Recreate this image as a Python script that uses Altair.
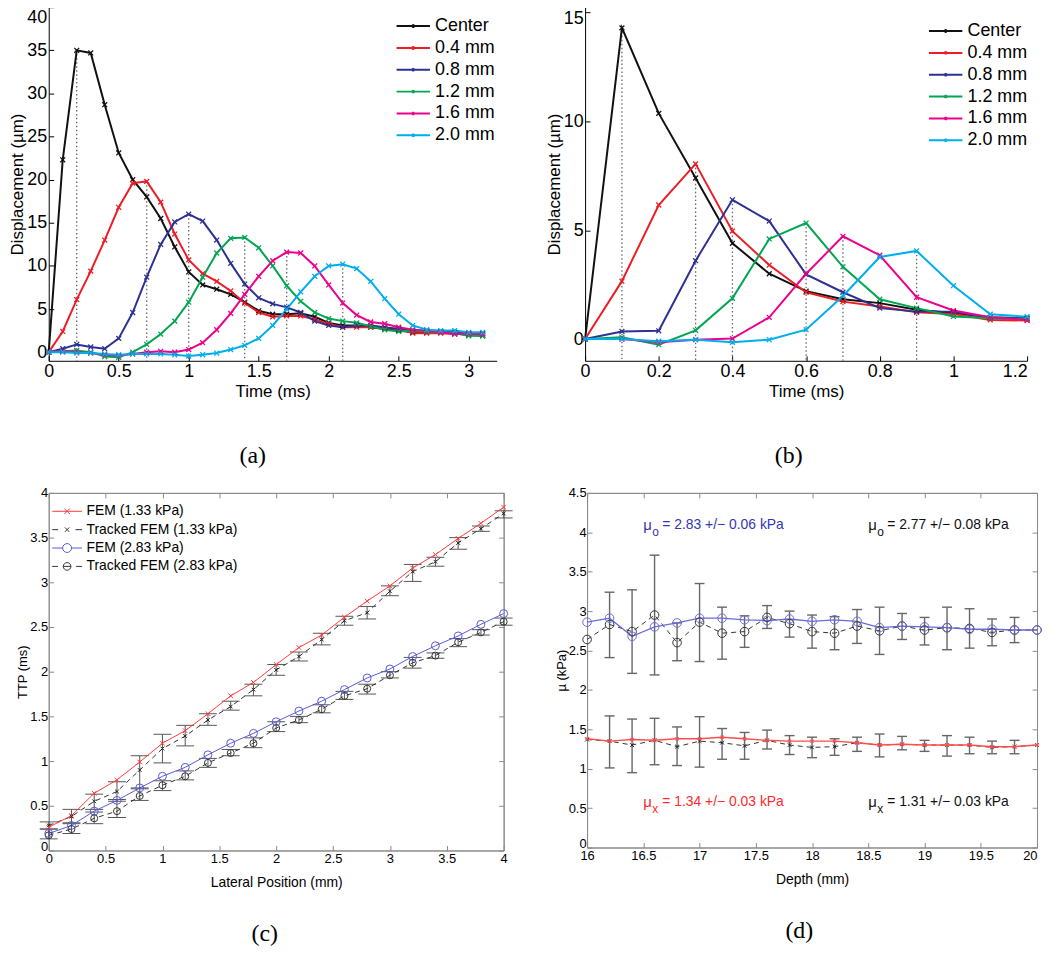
import altair as alt
import pandas as pd

# ---------------- data : panel (a) ----------------
TIME_A = [0.0, 0.1, 0.2, 0.3, 0.4, 0.5, 0.6, 0.7, 0.8, 0.9, 1.0, 1.1, 1.2, 1.3, 1.4, 1.5,
          1.6, 1.7, 1.8, 1.9, 2.0, 2.1, 2.2, 2.3, 2.4, 2.5, 2.6, 2.7, 2.8, 2.9, 3.0, 3.1]
A_CENTER = [0, 22.3, 35.0, 34.7, 28.7, 23.1, 20.0, 18.0, 15.5, 12.2, 9.3, 7.8, 7.3, 6.7, 5.8, 4.8,
            4.4, 4.4, 4.5, 4.1, 3.4, 3.1, 3.1, 2.9, 2.7, 2.5, 2.3, 2.3, 2.3, 2.2, 2.0, 1.9]
A_04 = [0, 2.4, 6.1, 9.4, 13.0, 16.8, 19.6, 19.8, 17.4, 13.7, 10.7, 9.1, 8.2, 7.1, 5.7, 4.6,
        4.1, 4.2, 4.2, 3.8, 3.3, 2.9, 2.9, 2.9, 2.8, 2.7, 2.2, 2.2, 2.2, 2.1, 2.1, 2.1]
A_08 = [0, 0.4, 0.9, 0.6, 0.4, 1.6, 4.6, 8.7, 12.5, 15.1, 16.0, 15.2, 13.0, 10.3, 7.9, 6.3,
        5.6, 5.2, 4.6, 3.6, 3.1, 2.9, 3.1, 3.1, 2.9, 2.7, 2.5, 2.5, 2.4, 2.3, 2.2, 2.2]
A_12 = [0, 0.1, 0.2, 0.0, -0.5, -0.6, 0.0, 0.9, 2.1, 3.6, 5.8, 8.7, 11.5, 13.2, 13.3, 12.1,
        10.0, 7.7, 5.9, 4.6, 3.9, 3.6, 3.4, 3.0, 2.6, 2.4, 2.5, 2.4, 2.3, 2.2, 1.9, 1.9]
A_16 = [0, 0.1, 0.0, -0.1, -0.3, -0.4, -0.2, 0.0, 0.1, 0.0, 0.3, 1.1, 2.6, 4.5, 6.7, 8.8,
        10.6, 11.6, 11.5, 10.0, 7.8, 5.7, 4.3, 3.5, 3.3, 2.9, 2.6, 2.5, 2.3, 2.1, 2.2, 2.1]
A_20 = [0, 0.0, -0.1, -0.1, -0.2, -0.3, -0.2, -0.2, -0.2, -0.3, -0.45, -0.3, -0.1, 0.3, 0.8, 1.6,
        3.1, 5.0, 7.0, 8.8, 10.0, 10.2, 9.7, 8.2, 6.2, 4.4, 3.1, 2.6, 2.5, 2.5, 2.3, 2.3]

# ---------------- data : panel (b) ----------------
TIME_B = [0.0, 0.1, 0.2, 0.3, 0.4, 0.5, 0.6, 0.7, 0.8, 0.9, 1.0, 1.1, 1.2]
B_CENTER = [0, 14.3, 10.37, 7.4, 4.4, 3.0, 2.2, 1.83, 1.65, 1.35, 1.2, 1.0, 0.95]
B_04 = [0, 2.66, 6.16, 8.05, 4.96, 3.4, 2.15, 1.72, 1.5, 1.23, 1.15, 0.88, 0.85]
B_08 = [0, 0.35, 0.38, 3.6, 6.4, 5.42, 2.97, 2.15, 1.42, 1.26, 1.26, 0.96, 0.96]
B_12 = [0, 0.08, -0.26, 0.4, 1.87, 4.6, 5.33, 3.32, 1.83, 1.42, 1.04, 0.96, 0.93]
B_16 = [0, 0.0, -0.15, -0.03, 0.02, 1.0, 3.0, 4.72, 3.85, 1.92, 1.31, 1.0, 0.88]
B_20 = [0, 0.0, -0.1, -0.03, -0.15, -0.03, 0.43, 1.98, 3.77, 4.05, 2.45, 1.14, 1.03]

SERIES_AB = ["Center", "0.4 mm", "0.8 mm", "1.2 mm", "1.6 mm", "2.0 mm"]
COLORS_AB = ["#111111", "#ee1c24", "#2e3192", "#00a651", "#ec008c", "#00aeef"]

# ---------------- data : panel (c) ----------------
C_X = [0.0, 0.2, 0.4, 0.6, 0.8, 1.0, 1.2, 1.4, 1.6, 1.8, 2.0, 2.2, 2.4, 2.6, 2.8, 3.0,
       3.2, 3.4, 3.6, 3.8, 4.0]
C_FEM133 = [0.26, 0.39, 0.64, 0.79, 0.99, 1.20, 1.34, 1.53, 1.73, 1.88, 2.08, 2.27, 2.41, 2.61,
            2.79, 2.96, 3.16, 3.31, 3.49, 3.66, 3.84]
C_TRK133 = [0.28, 0.38, 0.55, 0.66, 0.90, 1.14, 1.28, 1.46, 1.61, 1.80, 2.02, 2.17, 2.36, 2.57,
            2.66, 2.90, 3.12, 3.23, 3.44, 3.60, 3.77]
C_TRK133_LO = [0.24, 0.31, 0.46, 0.55, 0.69, 0.98, 1.17, 1.40, 1.57, 1.73, 1.96, 2.12, 2.30, 2.52,
               2.59, 2.85, 3.01, 3.18, 3.37, 3.57, 3.72]
C_TRK133_HI = [0.32, 0.46, 0.63, 0.77, 1.06, 1.30, 1.40, 1.53, 1.67, 1.86, 2.08, 2.22, 2.43, 2.62,
               2.73, 2.96, 3.20, 3.28, 3.50, 3.63, 3.80]
C_FEM283 = [0.19, 0.28, 0.44, 0.56, 0.70, 0.83, 0.93, 1.07, 1.20, 1.31, 1.44, 1.56, 1.67, 1.80,
            1.93, 2.03, 2.17, 2.29, 2.40, 2.53, 2.65]
C_TRK283 = [0.17, 0.24, 0.36, 0.44, 0.61, 0.73, 0.83, 0.98, 1.09, 1.20, 1.37, 1.46, 1.58, 1.73,
            1.81, 1.96, 2.10, 2.18, 2.33, 2.44, 2.56]
C_TRK283_LO = [0.13, 0.19, 0.30, 0.37, 0.56, 0.67, 0.79, 0.93, 1.06, 1.15, 1.33, 1.43, 1.54, 1.69,
               1.75, 1.93, 2.04, 2.15, 2.28, 2.41, 2.52]
C_TRK283_HI = [0.24, 0.30, 0.43, 0.57, 0.70, 0.78, 0.89, 1.03, 1.13, 1.26, 1.44, 1.50, 1.63, 1.78,
               1.86, 2.00, 2.16, 2.21, 2.37, 2.47, 2.60]
SERIES_C = ["FEM (1.33 kPa)", "Tracked FEM (1.33 kPa)", "FEM (2.83 kPa)", "Tracked FEM (2.83 kPa)"]
COLORS_C = ["#ff3b3b", "#333333", "#5a5ad6", "#333333"]

# ---------------- data : panel (d) ----------------
D_X = [16.0, 16.2, 16.4, 16.6, 16.8, 17.0, 17.2, 17.4, 17.6, 17.8, 18.0, 18.2, 18.4, 18.6,
       18.8, 19.0, 19.2, 19.4, 19.6, 19.8, 20.0]
D_FEM283 = [2.86, 2.91, 2.68, 2.80, 2.85, 2.91, 2.91, 2.89, 2.88, 2.90, 2.87, 2.89, 2.87, 2.79,
            2.81, 2.80, 2.79, 2.77, 2.77, 2.76, 2.76]
D_TRK283 = [2.64, 2.83, 2.74, 2.95, 2.60, 2.86, 2.72, 2.74, 2.92, 2.84, 2.74, 2.72, 2.81, 2.75,
            2.81, 2.76, 2.79, 2.78, 2.73, 2.76, 2.76]
D_TRK283_LO = [None, 2.41, 2.21, 2.19, 2.37, 2.36, 2.39, 2.54, 2.78, 2.67, 2.53, 2.51, 2.59, 2.45,
               2.64, 2.57, 2.51, 2.53, 2.56, 2.60, None]
D_TRK283_HI = [None, 3.24, 3.27, 3.71, 2.85, 3.35, 3.05, 2.94, 3.07, 3.00, 2.95, 2.93, 3.02, 3.05,
               2.97, 2.92, 3.05, 3.03, 2.90, 2.92, None]
D_FEM134 = [1.38, 1.35, 1.37, 1.36, 1.38, 1.38, 1.40, 1.38, 1.36, 1.35, 1.35, 1.35, 1.33, 1.30,
            1.31, 1.30, 1.30, 1.30, 1.28, 1.28, 1.30]
D_TRK131 = [1.37, 1.35, 1.30, 1.36, 1.28, 1.35, 1.33, 1.29, 1.36, 1.30, 1.27, 1.28, 1.33, 1.30,
            1.31, 1.30, 1.30, 1.30, 1.27, 1.28, 1.30]
D_TRK131_LO = [None, 1.01, 0.95, 1.05, 1.04, 1.02, 1.12, 1.12, 1.25, 1.18, 1.14, 1.17, 1.22, 1.15,
               1.24, 1.22, 1.16, 1.19, 1.19, 1.19, None]
D_TRK131_HI = [None, 1.67, 1.63, 1.64, 1.53, 1.66, 1.51, 1.46, 1.49, 1.42, 1.40, 1.38, 1.40, 1.44,
               1.41, 1.36, 1.42, 1.40, 1.35, 1.36, None]

ANN_X = [16.5, 18.5, 16.5, 18.5]
ANN_Y = [4.09, 4.09, 0.58, 0.58]
ANN_MU = ["\u03bc", "\u03bc", "\u03bc", "\u03bc"]
ANN_SUB = ["o", "o", "x", "x"]
ANN_REST = ["= 2.83 +/\u2212 0.06 kPa", "= 2.77 +/\u2212 0.08 kPa",
            "= 1.34 +/\u2212 0.03 kPa", "= 1.31 +/\u2212 0.03 kPa"]
ANN_COLOR = ["#3535b5", "#111111", "#ff2a2a", "#111111"]

# ---------------- helpers ----------------
SANS = "Liberation Sans"
SERIF = "Liberation Serif"
XPATH = "M-1,-1L1,1M-1,1L1,-1"
# legend glyphs: a line with the marker in its middle (drawn wider than the symbol box)
LEG_AB = "M-2.1,0L2.1,0M-0.16,-0.16L0.16,0.16M-0.16,0.16L0.16,-0.16"
LEG_C = [
    "M-2.14,0L2.14,0M-0.4,-0.4L0.4,0.4M-0.4,0.4L0.4,-0.4",
    "M-2.14,0L-1.3,0M1.2,0L2.14,0M-0.32,-0.32L0.32,0.32M-0.32,0.32L0.32,-0.32",
    "M-2.14,0L-0.64,0M0.64,0L2.14,0M0.64,0A0.64,0.64,0,1,1,-0.64,0A0.64,0.64,0,1,1,0.64,0",
    "M-2.14,0L-1.3,0M1.3,0L2.14,0M0.55,0A0.55,0.55,0,1,1,-0.55,0A0.55,0.55,0,1,1,0.55,0M-0.55,0L0.55,0",
]
TICK_IN = 5


def inward(n):
    return {"expr": str(-n)}


def caption(text, offset):
    return alt.TitleParams(text, orient="bottom", font=SERIF, fontSize=24, fontWeight="normal",
                           offset=offset, anchor="middle", frame="bounds", color="#000")


def end_align(last):
    # keep the label that sits on the right end of an axis inside the page
    return {"condition": {"test": f"datum.value >= {last}", "value": "right"}, "value": "center"}


def top_nudge(last, px):
    return {"condition": {"test": f"datum.value >= {last}", "value": px}, "value": 0}


def bottom_nudge(first, px):
    return {"condition": {"test": f"datum.value <= {first}", "value": px}, "value": 0}


def long_frame(times, named):
    rows = []
    for name, vals in named:
        for t, v in zip(times, vals):
            rows.append({"t": t, "v": v, "series": name})
    return pd.DataFrame(rows)


def panel_ab(times, named, xdom, xvals, ydom, yvals, w, h, cap, lx, ly, nudge):
    df = long_frame(times, named)
    pk = df.loc[df.groupby("series")["v"].idxmax()].reset_index(drop=True)
    common = dict(grid=False, domainColor="#000", tickColor="#000", labelColor="#000",
                  titleColor="#000", labelFont=SANS, titleFont=SANS, labelFontSize=18,
                  titleFontSize=17, titleFontWeight="normal", tickSize=inward(TICK_IN),
                  labelFlush=False, format="~g")
    xa = alt.Axis(values=xvals, title="Time (ms)", labelPadding=TICK_IN + 2, titlePadding=3,
                  labelAlign=end_align(xdom[1]), **common)
    ya = alt.Axis(values=yvals, title="Displacement (\u00b5m)", labelPadding=TICK_IN + 2,
                  titlePadding=0, labelOffset=top_nudge(yvals[-1], nudge), **common)
    X = alt.X("t:Q", scale=alt.Scale(domain=xdom, nice=False, zero=False), axis=xa)
    Y = alt.Y("v:Q", scale=alt.Scale(domain=ydom, nice=False, zero=False), axis=ya)
    leg = alt.Legend(title=None, orient="none", legendX=lx, legendY=ly, labelFontSize=18,
                     labelFont=SANS, labelColor="#000", symbolType=LEG_AB, symbolSize=256,
                     symbolStrokeWidth=2, symbolOpacity=1, padding=0, rowPadding=4,
                     labelOffset=13, labelLimit=200)
    C_leg = alt.Color("series:N", scale=alt.Scale(domain=SERIES_AB, range=COLORS_AB), legend=leg)
    C = alt.Color("series:N", scale=alt.Scale(domain=SERIES_AB, range=COLORS_AB), legend=None)
    rules = alt.Chart(pk).mark_rule(color="#666666", strokeDash=[1.5, 2.5], strokeWidth=1.3).encode(
        x=X, y=Y, y2=alt.datum(ydom[0]))
    lines = alt.Chart(df).mark_line(strokeWidth=2).encode(x=X, y=Y, color=C_leg)
    pts = alt.Chart(df).mark_point(shape=XPATH, size=24, strokeWidth=1.3, filled=False,
                                   opacity=1).encode(x=X, y=Y, color=C)
    return alt.layer(rules, lines, pts).properties(width=w, height=h, title=caption(cap, 45))


def frame_axes(xdom, xvals, ydom, yvals, xtitle, ytitle, align_end):
    common = dict(grid=False, domainColor="#8a8a8a", tickColor="#8a8a8a", labelColor="#000",
                  titleColor="#000", labelFont=SANS, labelFontSize=13, titleFontWeight="normal",
                  tickSize=inward(TICK_IN), labelFlush=False, format="~g")
    xkw = dict(labelAlign=end_align(xdom[1])) if align_end else {}
    xa = alt.Axis(values=xvals, title=xtitle, titleFont=SANS, titleFontSize=14,
                  labelPadding=TICK_IN + 2, titlePadding=10, **xkw, **common)
    ya = alt.Axis(values=yvals, title=ytitle, titleFont=SANS, titleFontSize=13,
                  labelPadding=TICK_IN + 1, titlePadding=0,
                  labelOffset=bottom_nudge(ydom[0], -4), **common)
    mirror = dict(grid=False, domainColor="#8a8a8a", tickColor="#8a8a8a", labels=False,
                  title=None, tickSize=inward(TICK_IN))
    xs = alt.Scale(domain=xdom, nice=False, zero=False)
    ys = alt.Scale(domain=ydom, nice=False, zero=False)
    X = alt.X("x:Q", scale=xs, axis=xa)
    Y = alt.Y("y:Q", scale=ys, axis=ya)
    Xn = alt.X("x:Q", scale=xs, axis=None)
    Yn = alt.Y("y:Q", scale=ys, axis=None)
    Xt = alt.X("x:Q", scale=xs, axis=alt.Axis(orient="top", values=xvals, **mirror))
    Yr = alt.Y("y:Q", scale=ys, axis=alt.Axis(orient="right", values=yvals, **mirror))
    return X, Y, Xn, Yn, Xt, Yr, ys


def errorbars(xs_, lo, hi, Xn, ys, cap_w, color, width):
    df = pd.DataFrame({"x": xs_, "lo": lo, "hi": hi})
    Ylo = alt.Y("lo:Q", scale=ys, axis=None)
    Yhi = alt.Y("hi:Q", scale=ys, axis=None)
    bar = alt.Chart(df).mark_rule(color=color, strokeWidth=width).encode(x=Xn, y=Ylo, y2="hi:Q")
    c1 = alt.Chart(df).mark_tick(orient="horizontal", size=cap_w, thickness=width, color=color,
                                 opacity=1).encode(x=Xn, y=Ylo)
    c2 = alt.Chart(df).mark_tick(orient="horizontal", size=cap_w, thickness=width, color=color,
                                 opacity=1).encode(x=Xn, y=Yhi)
    return [bar, c1, c2]


# ---------------- panels (a), (b) ----------------
pa = panel_ab(TIME_A,
              list(zip(SERIES_AB, [A_CENTER, A_04, A_08, A_12, A_16, A_20])),
              [0, 3.2], [0, 0.5, 1, 1.5, 2, 2.5, 3], [-1, 40], [0, 5, 10, 15, 20, 25, 30, 35, 40],
              451, 356, "(a)", 358, 10, 10)
pb = panel_ab(TIME_B,
              list(zip(SERIES_AB, [B_CENTER, B_04, B_08, B_12, B_16, B_20])),
              [0, 1.2], [0, 0.2, 0.4, 0.6, 0.8, 1, 1.2], [-1, 15.25], [0, 5, 10, 15],
              445, 356, "(b)", 354, 15, 6)

# ---------------- panel (c) ----------------
X, Y, Xn, Yn, Xt, Yr, ysc = frame_axes([0, 4], [0, 0.5, 1, 1.5, 2, 2.5, 3, 3.5, 4],
                                       [0, 4], [0, 0.5, 1, 1.5, 2, 2.5, 3, 3.5, 4],
                                       "Lateral Position (mm)", "TTP (ms)", False)
c_fem133 = pd.DataFrame({"x": C_X, "y": C_FEM133})
c_trk133 = pd.DataFrame({"x": C_X, "y": C_TRK133})
c_fem283 = pd.DataFrame({"x": C_X, "y": C_FEM283})
c_trk283 = pd.DataFrame({"x": C_X, "y": C_TRK283})
c_layers = []
c_layers += errorbars(C_X, C_TRK133_LO, C_TRK133_HI, Xn, ysc, 18, "#555555", 1)
c_layers += errorbars(C_X, C_TRK283_LO, C_TRK283_HI, Xn, ysc, 18, "#555555", 1)
c_layers += [
    alt.Chart(c_trk133).mark_line(color="#333333", strokeWidth=1, strokeDash=[5, 4]).encode(x=Xn, y=Yn),
    alt.Chart(c_trk283).mark_line(color="#333333", strokeWidth=1, strokeDash=[5, 4]).encode(x=Xn, y=Yn),
    alt.Chart(c_fem133).mark_line(color="#ff3b3b", strokeWidth=1).encode(x=X, y=Y),
    alt.Chart(c_fem283).mark_line(color="#5a5ad6", strokeWidth=1).encode(x=Xt, y=Yr),
    alt.Chart(c_trk133).mark_point(shape=XPATH, size=14, color="#222222", strokeWidth=1,
                                   filled=False, opacity=1).encode(x=Xn, y=Yn),
    alt.Chart(c_trk283).mark_point(shape="circle", size=50, color="#333333", strokeWidth=1,
                                   filled=False, opacity=1).encode(x=Xn, y=Yn),
    alt.Chart(c_fem133).mark_point(shape=XPATH, size=22, color="#ff3b3b", strokeWidth=1,
                                   filled=False, opacity=1).encode(x=Xn, y=Yn),
    alt.Chart(c_fem283).mark_point(shape="circle", size=64, color="#5a5ad6", strokeWidth=1,
                                   filled=False, opacity=1).encode(x=Xn, y=Yn),
]
leg_c = alt.Legend(title=None, orient="none", legendX=11, legendY=11, labelFontSize=14,
                   labelFont=SANS, labelColor="#000", symbolSize=196, symbolStrokeWidth=1,
                   symbolOpacity=1, symbolFillColor="transparent", padding=0, rowPadding=3.5,
                   labelOffset=12, labelLimit=250)
# legend carrier: one point per series, placed outside the domain and clipped away
leg_c_df = pd.DataFrame({"series": SERIES_C, "x": [-10.0] * 4, "y": [-10.0] * 4})
c_layers.append(
    alt.Chart(leg_c_df).mark_point(filled=False, clip=True, opacity=1).encode(
        x=Xn, y=Yn,
        color=alt.Color("series:N", scale=alt.Scale(domain=SERIES_C, range=COLORS_C), legend=leg_c),
        shape=alt.Shape("series:N", scale=alt.Scale(domain=SERIES_C, range=LEG_C), legend=leg_c),
    )
)
pc = alt.layer(*c_layers).resolve_axis(x="independent", y="independent").properties(
    width=458, height=360, title=caption("(c)", 33),
    view=alt.ViewBackground(stroke="#8a8a8a", strokeWidth=1))

# ---------------- panel (d) ----------------
X, Y, Xn, Yn, Xt, Yr, ysd = frame_axes([16, 20], [16, 16.5, 17, 17.5, 18, 18.5, 19, 19.5, 20],
                                       [0, 4.5], [0, 0.5, 1, 1.5, 2, 2.5, 3, 3.5, 4, 4.5],
                                       "Depth (mm)", "\u00b5 (kPa)", True)
d_fem283 = pd.DataFrame({"x": D_X, "y": D_FEM283})
d_trk283 = pd.DataFrame({"x": D_X, "y": D_TRK283})
d_fem134 = pd.DataFrame({"x": D_X, "y": D_FEM134})
d_trk131 = pd.DataFrame({"x": D_X, "y": D_TRK131})
ann = pd.DataFrame({"x": ANN_X, "y": ANN_Y, "mu": ANN_MU, "sub": ANN_SUB, "rest": ANN_REST,
                    "col": ANN_COLOR})
d_layers = []
d_layers += errorbars(D_X, D_TRK283_LO, D_TRK283_HI, Xn, ysd, 10, "#666666", 1.4)
d_layers += errorbars(D_X, D_TRK131_LO, D_TRK131_HI, Xn, ysd, 10, "#666666", 1.4)
d_layers += [
    alt.Chart(d_trk283).mark_line(color="#333333", strokeWidth=1, strokeDash=[5, 4]).encode(x=Xn, y=Yn),
    alt.Chart(d_trk131).mark_line(color="#333333", strokeWidth=1, strokeDash=[5, 4]).encode(x=Xn, y=Yn),
    alt.Chart(d_fem283).mark_line(color="#6a6ad6", strokeWidth=1.3).encode(x=X, y=Y),
    alt.Chart(d_fem134).mark_line(color="#ff4d4d", strokeWidth=1.5).encode(x=Xt, y=Yr),
    alt.Chart(d_trk283).mark_point(shape="circle", size=75, color="#333333", strokeWidth=1,
                                   filled=False, opacity=1).encode(x=Xn, y=Yn),
    alt.Chart(d_fem283).mark_point(shape="circle", size=75, color="#6a6ad6", strokeWidth=1,
                                   filled=False, opacity=1).encode(x=Xn, y=Yn),
    alt.Chart(d_trk131).mark_point(shape=XPATH, size=14, color="#222222", strokeWidth=1,
                                   filled=False, opacity=1).encode(x=Xn, y=Yn),
    alt.Chart(d_fem134).mark_point(shape=XPATH, size=10, color="#ff4d4d", strokeWidth=1.2,
                                   filled=False, opacity=1).encode(x=Xn, y=Yn),
    alt.Chart(ann).mark_text(align="left", baseline="middle", font=SANS, fontSize=15).encode(
        x=Xn, y=Yn, text="mu:N", color=alt.Color("col:N", scale=None)),
    alt.Chart(ann).mark_text(align="left", baseline="middle", font=SANS, fontSize=12, dx=9,
                             dy=7).encode(x=Xn, y=Yn, text="sub:N", color=alt.Color("col:N", scale=None)),
    alt.Chart(ann).mark_text(align="left", baseline="middle", font=SANS, fontSize=14,
                             dx=19).encode(x=Xn, y=Yn, text="rest:N", color=alt.Color("col:N", scale=None)),
]
pd_ = alt.layer(*d_layers).resolve_axis(x="independent", y="independent").properties(
    width=453, height=357, title=caption("(d)", 33),
    view=alt.ViewBackground(stroke="#8a8a8a", strokeWidth=1))

IND = dict(color="independent", shape="independent")
top = alt.hconcat(pa, pb, spacing=47).resolve_scale(**IND).resolve_legend(**IND)
bottom = alt.hconcat(pc, pd_, spacing=41).resolve_scale(**IND).resolve_legend(**IND)
chart = alt.vconcat(top, bottom, spacing=17).resolve_scale(**IND).resolve_legend(**IND).properties(
    padding={"left": 0, "top": -5, "right": -2, "bottom": 0}
).configure(font=SANS, background="white").configure_view(stroke="transparent")

chart.save("out.html", embed_options={"renderer": "svg", "actions": False})
